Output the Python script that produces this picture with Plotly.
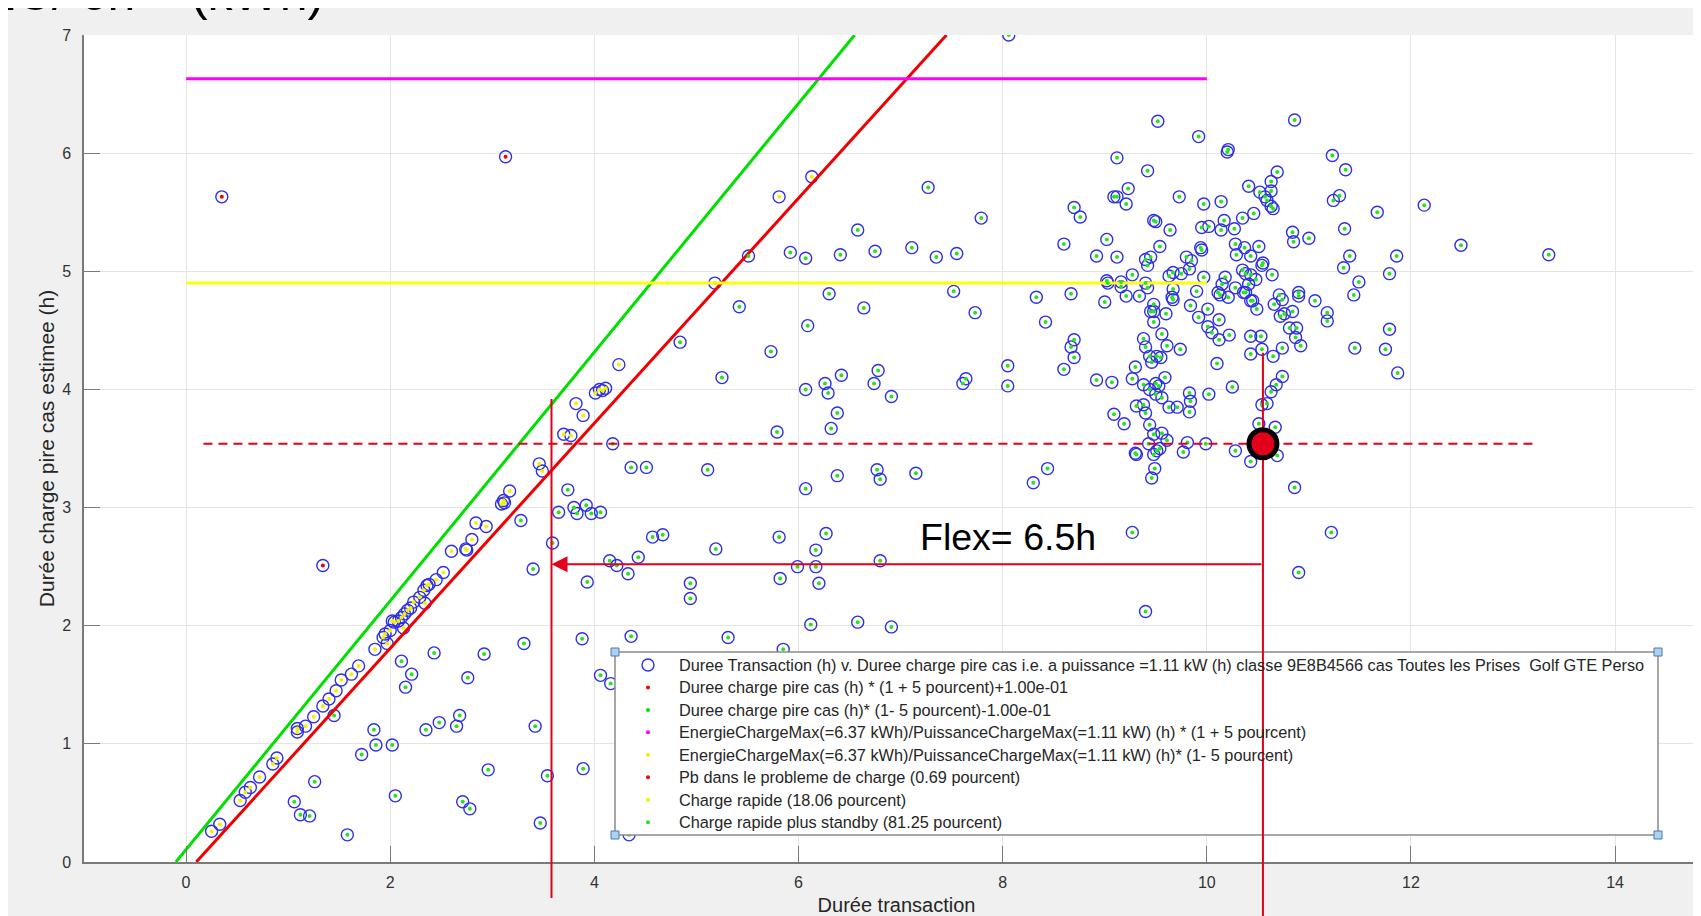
import plotly.graph_objects as go

# ---------------- data ----------------
# "Pb dans le probleme de charge" points (red centre)
pb_pts = [(0.35, 5.63), (3.13, 5.97), (1.34, 2.51)]

# "Charge rapide" points (yellow centre)
rapide_pts = [
    (3.82, 3.88), (3.89, 3.78), (3.70, 3.62), (3.77, 3.61), (3.46, 3.37), (3.49, 3.31),
    (3.17, 3.14), (3.11, 3.06), (3.09, 3.03), (3.12, 3.04), (2.84, 2.87), (2.94, 2.84),
    (2.80, 2.73), (2.60, 2.63), (2.74, 2.65), (2.75, 2.64), (2.52, 2.45), (2.45, 2.39),
    (2.38, 2.35), (2.36, 2.34), (2.33, 2.30), (2.29, 2.24), (2.34, 2.19), (2.23, 2.20),
    (2.20, 2.15), (2.17, 2.13), (2.14, 2.10), (2.11, 2.07), (2.08, 2.04), (2.02, 2.04),
    (2.04, 2.03), (2.00, 1.96), (1.95, 1.93), (1.93, 1.90), (1.97, 1.85), (1.85, 1.80),
    (2.13, 1.98), (1.69, 1.66), (1.62, 1.59), (1.52, 1.54), (1.47, 1.45), (1.40, 1.38),
    (1.34, 1.32), (1.25, 1.23), (1.17, 1.15), (1.09, 1.10), (1.09, 1.13), (0.89, 0.88),
    (0.85, 0.83), (0.72, 0.72), (0.63, 0.63), (0.58, 0.59), (0.53, 0.52), (0.33, 0.32),
    (0.25, 0.26), (6.13, 5.80), (5.81, 5.63), (5.18, 4.90), (4.24, 4.21), (4.11, 4.01),
    (4.08, 3.99), (4.01, 3.97), (4.05, 4.00),
]

# "Charge rapide plus standby" points (green centre)
standby_pts = [
    (1.45, 1.24), (2.11, 1.70), (2.21, 1.59), (2.15, 1.48), (2.43, 1.77), (2.92, 1.76),
    (2.76, 1.56), (3.31, 1.85), (3.28, 2.89), (1.84, 1.12), (1.72, 0.91), (1.86, 0.99),
    (2.02, 0.99), (2.35, 1.12), (2.48, 1.18), (2.68, 1.24), (2.65, 1.15), (3.42, 1.15),
    (1.26, 0.68), (1.06, 0.51), (1.12, 0.40), (1.21, 0.39), (1.58, 0.23), (2.05, 0.56),
    (2.71, 0.51), (2.78, 0.45), (2.96, 0.78), (3.54, 0.73), (3.47, 0.33), (3.89, 0.79),
    (3.40, 2.48), (3.59, 2.70), (3.65, 2.96), (3.74, 3.15), (3.80, 3.00), (3.83, 2.95),
    (3.92, 3.02), (3.97, 2.95), (4.06, 2.96), (4.18, 3.54), (4.36, 3.34), (4.51, 3.34),
    (4.57, 2.75), (4.67, 2.77), (4.15, 2.55), (4.22, 2.51), (4.43, 2.58), (4.33, 2.44),
    (3.93, 2.37), (4.94, 2.36), (4.94, 2.23), (3.88, 1.89), (4.36, 1.91), (4.06, 1.58),
    (4.16, 1.51), (4.34, 0.23),
    (5.79, 3.64), (6.38, 3.80), (6.32, 3.67), (5.11, 3.32), (6.38, 3.27), (6.07, 3.16),
    (6.77, 3.32), (6.80, 3.24), (7.15, 3.29), (5.81, 2.75), (6.27, 2.78), (6.17, 2.64),
    (6.17, 2.50), (5.99, 2.50), (6.80, 2.55), (5.82, 2.40), (6.20, 2.36), (5.19, 2.65),
    (6.12, 2.01), (6.58, 2.03), (6.91, 1.99), (5.31, 1.90), (5.85, 1.80),
    (7.27, 5.71), (8.70, 5.54), (8.76, 5.46), (7.79, 5.45), (6.58, 5.35), (8.60, 5.23),
    (8.92, 5.13), (5.51, 5.13), (5.92, 5.16), (6.07, 5.11), (6.41, 5.14), (6.75, 5.17),
    (7.11, 5.20), (7.35, 5.12), (7.55, 5.15), (5.42, 4.70), (6.30, 4.81), (6.64, 4.69),
    (7.52, 4.83), (7.73, 4.65), (8.33, 4.78), (8.67, 4.81), (8.42, 4.57), (8.70, 4.42),
    (8.67, 4.36), (8.70, 4.27), (8.60, 4.17), (8.92, 4.08), (6.09, 4.54), (4.84, 4.40),
    (5.73, 4.32), (5.25, 4.10), (6.07, 4.00), (6.26, 4.05), (6.29, 3.97), (6.42, 4.12),
    (6.78, 4.16), (6.74, 4.05), (6.91, 3.94), (7.64, 4.09), (7.61, 4.05), (8.05, 4.20),
    (8.05, 4.03), (8.06, 7.00), (8.44, 3.33), (8.30, 3.21),
    (9.27, 2.79), (9.40, 2.12), (11.22, 2.79), (10.90, 2.45), (10.86, 3.17),
    (9.52, 6.27), (10.86, 6.28), (9.92, 6.14), (10.20, 6.01), (10.21, 6.03), (9.12, 5.96),
    (11.23, 5.98), (9.42, 5.85), (11.36, 5.86), (10.69, 5.84), (10.63, 5.76), (10.63, 5.68),
    (10.41, 5.72), (10.52, 5.67), (10.57, 5.63), (10.59, 5.60), (10.63, 5.55), (10.65, 5.53),
    (9.23, 5.70), (9.09, 5.63), (9.12, 5.63), (9.21, 5.57), (9.73, 5.63), (9.97, 5.57),
    (10.14, 5.59), (11.30, 5.64), (11.24, 5.60), (11.67, 5.50), (12.13, 5.56), (12.49, 5.22),
    (13.35, 5.14), (9.50, 5.42), (9.48, 5.43), (9.64, 5.35), (9.95, 5.37), (10.02, 5.38),
    (10.17, 5.43), (10.14, 5.35), (10.27, 5.36), (10.35, 5.45), (10.46, 5.49), (10.84, 5.33),
    (10.85, 5.25), (11.00, 5.28), (11.35, 5.36), (9.02, 5.27), (9.12, 5.12), (9.54, 5.21),
    (9.94, 5.20), (9.95, 5.18), (10.28, 5.23), (10.29, 5.14), (10.37, 5.20), (10.51, 5.21),
    (10.43, 5.13), (10.55, 5.07), (10.54, 5.05), (11.40, 5.13), (11.86, 5.13), (11.34, 5.03),
    (11.79, 4.98), (11.49, 4.91), (11.44, 4.80), (9.40, 5.10), (9.45, 5.12), (9.42, 5.05),
    (9.27, 4.97), (9.63, 4.96), (9.67, 4.99), (9.75, 4.98), (9.83, 5.02), (9.80, 5.12),
    (9.85, 5.09), (9.97, 4.95), (10.18, 4.95), (10.15, 4.89), (10.35, 5.01), (10.38, 4.98),
    (10.43, 4.97), (10.48, 4.93), (10.41, 4.89), (10.64, 4.97), (9.02, 4.92), (9.03, 4.90),
    (9.16, 4.91), (9.16, 4.87), (9.40, 4.90), (9.42, 4.86), (9.00, 4.74), (9.21, 4.79),
    (9.34, 4.79), (9.67, 4.85), (9.67, 4.76), (9.66, 4.78), (9.90, 4.83), (9.84, 4.71),
    (10.11, 4.82), (10.13, 4.80), (10.21, 4.78), (10.28, 4.86), (10.36, 4.82), (10.38, 4.82),
    (10.43, 4.75), (10.45, 4.75), (10.49, 4.68), (10.66, 4.72), (10.71, 4.80), (10.74, 4.76),
    (10.72, 4.62), (10.76, 4.64), (10.84, 4.66), (10.90, 4.82), (10.90, 4.79), (11.06, 4.75),
    (11.18, 4.65), (11.18, 4.58), (9.48, 4.72), (9.48, 4.66), (9.45, 4.66), (9.60, 4.64),
    (9.48, 4.57), (9.92, 4.61), (10.01, 4.68), (10.12, 4.59), (10.01, 4.53), (10.05, 4.48),
    (10.12, 4.42), (10.22, 4.46), (9.56, 4.47), (9.61, 4.37), (9.74, 4.34), (9.38, 4.43),
    (9.40, 4.36), (10.43, 4.45), (10.53, 4.45), (10.43, 4.30), (10.54, 4.34), (10.65, 4.28),
    (10.74, 4.35), (10.81, 4.52), (10.88, 4.52), (10.87, 4.44), (10.92, 4.37), (11.45, 4.35),
    (11.75, 4.34), (11.79, 4.51), (11.87, 4.14), (9.44, 4.28), (9.51, 4.28), (9.55, 4.27),
    (9.46, 4.23), (10.10, 4.22), (9.07, 4.06), (9.30, 4.19), (9.27, 4.09), (9.38, 4.04),
    (9.44, 4.00), (9.50, 3.96), (9.50, 4.05), (9.56, 3.93), (9.53, 4.03), (9.59, 4.10),
    (9.83, 3.97), (9.84, 3.90), (9.83, 3.81), (10.02, 3.96), (10.25, 4.02), (9.63, 3.85),
    (9.71, 3.85), (9.31, 3.86), (9.38, 3.87), (9.40, 3.80), (9.09, 3.79), (9.19, 3.71),
    (9.44, 3.70), (9.48, 3.62), (9.56, 3.63), (9.61, 3.57), (9.43, 3.54), (9.51, 3.48),
    (9.48, 3.45), (9.54, 3.50), (9.30, 3.46), (9.31, 3.45), (9.49, 3.33), (9.46, 3.25),
    (9.81, 3.55), (9.77, 3.47), (9.99, 3.54), (10.28, 3.48), (10.43, 3.39), (10.51, 3.71),
    (10.67, 3.68), (10.69, 3.44), (10.54, 3.87), (10.59, 3.88), (10.63, 3.98), (10.68, 4.04),
    (10.74, 4.11),
]

# reference lines
plus_line_x = [0.1, 7.45]          # Duree charge pire cas *(1+5%)+0.1
plus_line_y = [0.0, 7.0]
minus_line_x = [-0.1, 6.55]        # Duree charge pire cas *(1-5%)-0.1
minus_line_y = [0.0, 7.0]
energie_x = [0.0, 10.0]
energie_plus_y = [6.63, 6.63]
energie_minus_y = [4.90, 4.90]

# "Flex" annotation values
flex_point_x = 10.55
flex_point_y = 3.54
flex_target_x = 3.58
flex_arrow_y = 2.52
flex_left_top = 3.92
flex_right_top = 4.31
dashed_x = [0.17, 13.21]
flex_label = "Flex= 6.5h"
flex_label_x = 7.17
flex_label_y = 2.75

x_ticks = [0, 2, 4, 6, 8, 10, 12, 14]
y_ticks = [0, 1, 2, 3, 4, 5, 6, 7]
x_range = [-1, 14.92]
y_range = [0, 7]

legend_names = [
    "Duree Transaction (h) v. Duree charge pire cas i.e. a puissance =1.11 kW (h) classe 9E8B4566 cas Toutes les Prises\u00a0\u00a0Golf GTE Perso",
    "Duree charge pire cas (h) * (1 + 5 pourcent)+1.00e-01",
    "Duree charge pire cas (h)* (1- 5 pourcent)-1.00e-01",
    "EnergieChargeMax(=6.37 kWh)/PuissanceChargeMax(=1.11 kW) (h) * (1 + 5 pourcent)",
    "EnergieChargeMax(=6.37 kWh)/PuissanceChargeMax(=1.11 kW) (h)* (1- 5 pourcent)",
    "Pb dans le probleme de charge (0.69 pourcent)",
    "Charge rapide (18.06 pourcent)",
    "Charge rapide plus standby (81.25 pourcent)",
]

# ---------------- styling ----------------
FONT = "Liberation Sans, Arial, sans-serif"
C_BLUE = "#2f2fe6"
C_RED = "#f00000"
C_GREEN = "#00e000"
C_MAG = "#ff00ff"
C_YEL = "#ffff00"
C_DOT_YEL = "#f2f200"
C_DOT_GREEN = "#22e622"
C_ANN = "#e3001b"

W, H = 1701, 916
ML, MR, MT, MB = 76, 0, 27, 62
PW, PH = W - ML - MR, H - MT - MB
OFF = 8  # page offset of the figure (body margin)


def fx(page_x):
    return (page_x - OFF - ML) / PW


def fy(page_y):
    return (H - MB - (page_y - OFF)) / PH


def unzip(pts):
    return [p[0] for p in pts], [p[1] for p in pts]


pb_x, pb_y = unzip(pb_pts)
ra_x, ra_y = unzip(rapide_pts)
sb_x, sb_y = unzip(standby_pts)
all_x = sb_x + ra_x + pb_x
all_y = sb_y + ra_y + pb_y

fig = go.Figure()

fig.add_trace(go.Scatter(
    x=all_x, y=all_y, mode="markers", name=legend_names[0], showlegend=False,
    marker=dict(symbol="circle-open", size=12, color=C_BLUE, line=dict(width=1.4, color=C_BLUE)),
))

line_specs = [
    (plus_line_x, plus_line_y, C_RED, legend_names[1]),
    (minus_line_x, minus_line_y, C_GREEN, legend_names[2]),
    (energie_x, energie_plus_y, C_MAG, legend_names[3]),
    (energie_x, energie_minus_y, C_YEL, legend_names[4]),
]
for lx, ly, col, nm in line_specs:
    fig.add_trace(go.Scatter(x=lx, y=ly, mode="lines", name=nm, line=dict(color=col, width=3),
                             showlegend=False, hoverinfo="skip"))

fig.add_trace(go.Scatter(x=pb_x, y=pb_y, mode="markers", name=legend_names[5], showlegend=False,
                         marker=dict(size=4, color=C_RED)))
fig.add_trace(go.Scatter(x=ra_x, y=ra_y, mode="markers", name=legend_names[6], showlegend=False,
                         marker=dict(size=4, color=C_DOT_YEL)))
fig.add_trace(go.Scatter(x=sb_x, y=sb_y, mode="markers", name=legend_names[7], showlegend=False,
                         marker=dict(size=4, color=C_DOT_GREEN)))

# ---------------- legend box (MATLAB style, drawn by hand) ----------------
LEG_L, LEG_R, LEG_T, LEG_B = 615, 1658, 652, 835
LEG_ROW0, LEG_ROW_STEP = 665, 22.45
LEG_SYM_X, LEG_TXT_X = 648, 678
legend_symbols = [
    ("open", C_BLUE), ("dot", C_RED), ("dot", C_GREEN), ("dot", C_MAG),
    ("dot", C_DOT_YEL), ("dot", C_RED), ("dot", C_DOT_YEL), ("dot", C_DOT_GREEN),
]

shapes = [
    dict(type="line", xref="x", yref="y", x0=dashed_x[0], x1=dashed_x[1], y0=flex_point_y, y1=flex_point_y,
         line=dict(color=C_ANN, width=2, dash="9px,6px")),
    dict(type="rect", xref="paper", yref="paper", x0=fx(LEG_L), x1=fx(LEG_R), y0=fy(LEG_B), y1=fy(LEG_T),
         fillcolor="white", line=dict(color="#8a8a8a", width=1.5)),
]
annotations = []
for i, (kind, col) in enumerate(legend_symbols):
    row_y = LEG_ROW0 + i * LEG_ROW_STEP
    r = 6 if kind == "open" else 2
    shapes.append(dict(type="circle", xref="paper", yref="paper", xsizemode="pixel", ysizemode="pixel",
                       xanchor=fx(LEG_SYM_X), yanchor=fy(row_y), x0=-r, x1=r, y0=-r, y1=r,
                       fillcolor="rgba(0,0,0,0)" if kind == "open" else col,
                       line=dict(color=col, width=1.4 if kind == "open" else 0)))
    annotations.append(dict(x=fx(LEG_TXT_X), y=fy(row_y), xref="paper", yref="paper",
                            xanchor="left", yanchor="middle", text=legend_names[i], showarrow=False,
                            borderpad=0, font=dict(family=FONT, size=16.3, color="#262626")))

for hx, hy in [(LEG_L, LEG_T), (LEG_R, LEG_T), (LEG_L, LEG_B), (LEG_R, LEG_B)]:
    shapes.append(dict(type="rect", xref="paper", yref="paper",
                       x0=fx(hx - 4), x1=fx(hx + 4), y0=fy(hy + 4), y1=fy(hy - 4),
                       fillcolor="#a9d3f2", line=dict(color="#4f79a8", width=1)))

# verticals (cross the legend) and the highlighted point
shapes += [
    dict(type="line", xref="x", yref="paper", x0=flex_target_x, x1=flex_target_x,
         y0=fy(898), y1=flex_left_top / y_range[1], line=dict(color=C_ANN, width=2)),
    dict(type="line", xref="x", yref="paper", x0=flex_point_x, x1=flex_point_x,
         y0=fy(930), y1=flex_right_top / y_range[1], line=dict(color=C_ANN, width=2)),
    dict(type="circle", xref="x", yref="y", xsizemode="pixel", ysizemode="pixel",
         xanchor=flex_point_x, yanchor=flex_point_y, x0=-14, x1=14, y0=-14, y1=14,
         fillcolor=C_ANN, line=dict(color="black", width=5)),
]

annotations += [
    dict(x=flex_target_x, y=flex_arrow_y, ax=flex_point_x, ay=flex_arrow_y, xref="x", yref="y",
         axref="x", ayref="y", text="", showarrow=True, arrowhead=2, arrowsize=1.6,
         arrowwidth=2, arrowcolor=C_ANN, standoff=0),
    dict(x=flex_label_x, y=flex_label_y, xref="x", yref="y", xanchor="left", yanchor="middle",
         text=flex_label, showarrow=False, font=dict(family=FONT, size=37.5, color="black")),
    dict(x=fx(-14), y=fy(23), xref="paper", yref="paper", xanchor="left", yanchor="bottom",
         text="2C/ 6h\u00a0\u00a0\u00a0\u00a0(kWh)", showarrow=False,
         font=dict(family=FONT, size=50, color="black")),
]

axis_common = dict(
    ticks="inside", ticklen=16, tickwidth=1, tickcolor="#7a7a7a",
    showline=True, linecolor="#7a7a7a", linewidth=1.5, mirror=False,
    showgrid=True, gridcolor="#e4e4e4", gridwidth=1, zeroline=False,
    tickfont=dict(family=FONT, size=16, color="#333333"), automargin=False,
)

fig.update_layout(
    template="none",
    width=W, height=H,
    margin=dict(l=ML, r=MR, t=MT, b=MB, pad=0),
    paper_bgcolor="#f0f0f0", plot_bgcolor="white",
    font=dict(family=FONT, color="#262626"),
    xaxis=dict(range=x_range, tickvals=x_ticks, ticklabelstandoff=5,
               title=dict(text="Durée transaction", font=dict(family=FONT, size=20, color="#262626"), standoff=8),
               **axis_common),
    yaxis=dict(range=y_range, tickvals=y_ticks, ticklabelstandoff=8,
               title=dict(text="Durée charge pire cas estimee (h)", font=dict(family=FONT, size=21, color="#262626"), standoff=2),
               **axis_common),
    showlegend=False,
    shapes=shapes,
    annotations=annotations,
)

fig.write_html("out.html")
